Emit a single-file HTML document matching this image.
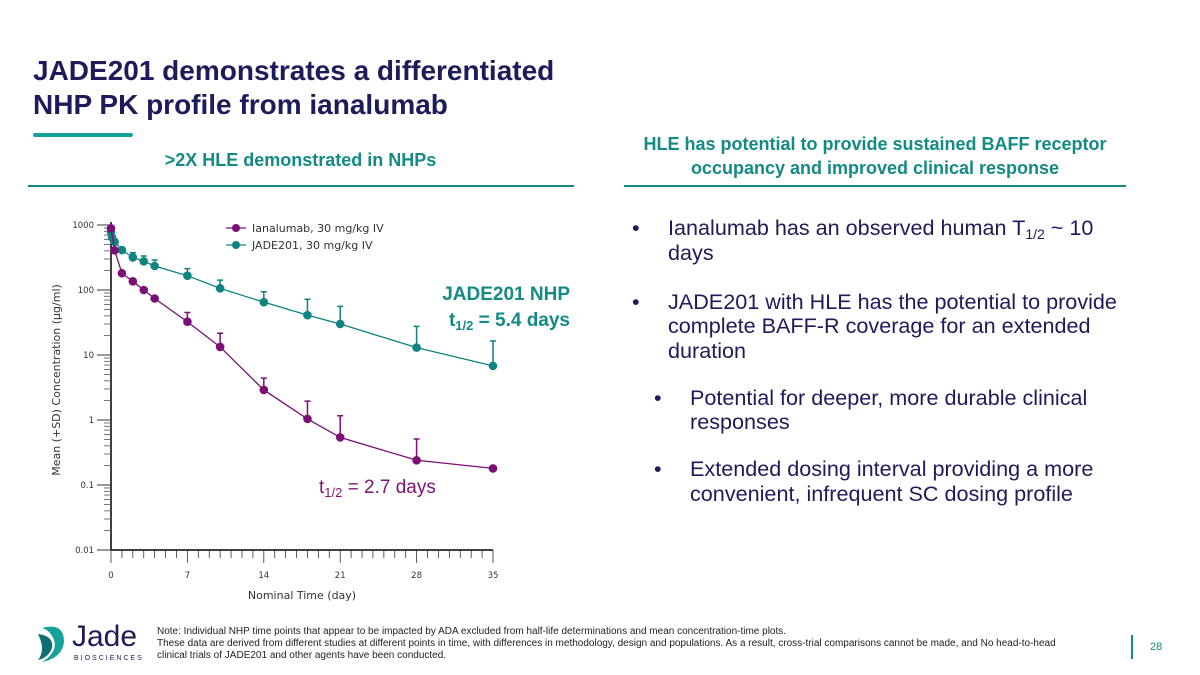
<!DOCTYPE html>
<html><head><meta charset="utf-8"><style>
body{margin:0;width:1200px;height:675px;background:#fff;font-family:"Liberation Sans",sans-serif;position:relative;overflow:hidden}
.a{position:absolute}
sub{line-height:0;vertical-align:-0.3em}
</style></head><body>
<div class="a" style="left:33px;top:54px;font-size:28px;font-weight:bold;color:#1e1b5a;line-height:34px">JADE201 demonstrates a differentiated<br>NHP PK profile from ianalumab</div>
<div class="a" style="left:33px;top:133px;width:100px;height:4px;background:#13a39a;border-radius:2px"></div>
<div class="a" style="left:28px;top:150px;width:545px;text-align:center;font-size:18px;font-weight:bold;color:#138a84">&gt;2X HLE demonstrated in NHPs</div>
<div class="a" style="left:28px;top:185px;width:546px;height:2px;background:#138a84"></div>
<div class="a" style="left:610px;top:132px;width:530px;text-align:center;font-size:18px;font-weight:bold;color:#138a84;line-height:24px">HLE has potential to provide sustained BAFF receptor<br>occupancy and improved clinical response</div>
<div class="a" style="left:624px;top:185px;width:502px;height:2px;background:#138a84"></div>

<div class="a" style="left:632px;top:216px;font-size:21.6px;color:#1e1b5a;line-height:24.5px">
<div style="position:relative;padding-left:36px"><span class="a" style="left:0">•</span>Ianalumab has an observed human T<sub style="font-size:14px">1/2</sub> ~ 10<br>days</div>
<div style="position:relative;padding-left:36px;margin-top:24.5px"><span class="a" style="left:0">•</span>JADE201 with HLE has the potential to provide<br>complete BAFF-R coverage for an extended<br>duration</div>
<div style="position:relative;padding-left:58px;margin-top:22.5px"><span class="a" style="left:22px">•</span>Potential for deeper, more durable clinical<br>responses</div>
<div style="position:relative;padding-left:58px;margin-top:22.5px"><span class="a" style="left:22px">•</span>Extended dosing interval providing a more<br>convenient, infrequent SC dosing profile</div>
</div>

<svg class="a" style="left:0;top:0" width="1200" height="675" id="chart"></svg>

<div class="a" style="left:420px;top:282px;width:150px;text-align:right;font-size:19px;font-weight:bold;color:#138a84;line-height:26px">JADE201 NHP<br>t<sub style="font-size:13px">1/2</sub> = 5.4 days</div>
<div class="a" style="left:319px;top:477px;font-size:19px;color:#7b1574">t<sub style="font-size:13px">1/2</sub> = 2.7 days</div>

<div class="a" style="left:34px;top:622px;width:118px;height:40px">
<svg width="40" height="42"><path d="M8 6 Q30 0 30 20 Q28 36 8 40 Q24 30 20 18 Q16 8 8 6Z" fill="#13a39a"/><path d="M4 12 Q20 14 18 26 Q14 36 4 38 Q12 28 4 12Z" fill="#0e6e72"/></svg>
<span class="a" style="left:38px;top:-2px;font-size:30px;color:#1e1b5a">Jade</span>
<span class="a" style="left:40px;top:33px;font-size:7px;letter-spacing:2px;color:#1e1b5a">BIOSCIENCES</span></div>
<div class="a" style="left:157px;top:626px;font-size:10px;color:#222;line-height:12px">Note: Individual NHP time points that appear to be impacted by ADA excluded from half-life determinations and mean concentration-time plots.<br>These data are derived from different studies at different points in time, with differences in methodology, design and populations. As a result, cross-trial comparisons cannot be made, and No head-to-head<br>clinical trials of JADE201 and other agents have been conducted.</div>
<div class="a" style="left:1131px;top:635px;width:2px;height:24px;background:#138a84"></div>
<div class="a" style="left:1150px;top:641px;font-size:11px;color:#138a84">28</div>

<script>
const times=[0,0.33,1,2,3,4,7,10,14,18,21,28,35];
const ianaVals=[890,408,181,136,100,74,32.5,13.3,2.9,1.04,0.54,0.24,0.18];
const ianaErr=[null,null,null,null,null,null,45,21.6,4.4,1.95,1.16,0.51,null];
const jadeTimes=[0,0.1,0.33,1,2,3,4,7,10,14,18,21,28,35];
const jadeVals=[780,640,552,412,317,276,234,166,106,65,41,30,13,6.8];
const jadeErr=[null,null,null,null,375,333,290,213,142,94,72,56,27.6,16.4];
const yTicks=[1000,100,10,1,0.1,0.01];
const yTickLabels=["1000","100","10","1","0.1","0.01"];
const xTicks=[0,7,14,21,28,35];
const NS="http://www.w3.org/2000/svg",svg=document.getElementById('chart');
const X=t=>111+t*(493-111)/35;
const Y=v=>225+(3-Math.log10(v))*65;
function mk(tag,at,txt){const e=document.createElementNS(NS,tag);for(const k in at)e.setAttribute(k,at[k]);if(txt!=null)e.textContent=txt;svg.appendChild(e);return e;}
let e;
e=mk('line',{x1:111,y1:222,x2:111,y2:550,stroke:'#000','stroke-width':1.5});

e=mk('line',{x1:111,y1:550,x2:493,y2:550,stroke:'#000','stroke-width':1.5});

yTicks.forEach((v,i)=>{
 e=mk('line',{x1:97,x2:111,y1:Y(v),y2:Y(v),stroke:'#333'});
 
 e=mk('text',{x:94,y:Y(v)+3,'font-size':8.5,'text-anchor':'end',fill:'#333','font-family':'DejaVu Sans'},yTickLabels[i]);
 
 if(v>0.01)for(let m=2;m<10;m++){const yy=Y(v/10*m);e=mk('line',{x1:104,x2:111,y1:yy,y2:yy,stroke:'#555','stroke-width':0.8});
 }
});
for(let t=0;t<=35;t++){
 const maj=t%7==0;e=mk('line',{x1:X(t),x2:X(t),y1:550,y2:maj?563:558,stroke:'#333','stroke-width':0.8});
 }
xTicks.forEach(t=>{e=mk('text',{x:X(t),y:578,'font-size':8.5,'text-anchor':'middle',fill:'#333','font-family':'DejaVu Sans'},String(t));
 });
e=mk('text',{x:302,y:599,'font-size':11,'text-anchor':'middle',fill:'#333','font-family':'DejaVu Sans'},'Nominal Time (day)');

e=mk('text',{x:0,y:0,'font-size':11,'text-anchor':'middle',fill:'#333','font-family':'DejaVu Sans',transform:'translate(60,380) rotate(-90)'},'Mean (+SD) Concentration (µg/ml)');

function series(ts,vals,errs,col,name){
 e=mk('polyline',{points:ts.map((t,i)=>X(t)+','+Y(vals[i])).join(' '),fill:'none',stroke:col,'stroke-width':1.3});
 
 ts.forEach((t,i)=>{
  if(errs[i]!=null){const x=X(t);e=mk('path',{d:`M${x} ${Y(vals[i])}V${Y(errs[i])}M${x-3} ${Y(errs[i])}H${x+3}`,stroke:col,'stroke-width':1.5,fill:'none'});
  }
  e=mk('circle',{cx:X(t),cy:Y(vals[i]),r:4.3,fill:col});
  
 });
}
series(jadeTimes,jadeVals,jadeErr,'#0f837f','jade201');
series(times,ianaVals,ianaErr,'#7a0f76','ianalumab');
[['Ianalumab, 30 mg/kg IV','#7a0f76',228],['JADE201, 30 mg/kg IV','#0f837f',245]].forEach(([l,c,y],i)=>{
 e=mk('line',{x1:226,x2:246,y1:y,y2:y,stroke:c,'stroke-width':1.3});
 
 e=mk('circle',{cx:236,cy:y,r:4,fill:c});
 
 e=mk('text',{x:252,y:y+4,'font-size':11,fill:'#333','font-family':'DejaVu Sans'},l);
 
});
</script>
</body></html>
